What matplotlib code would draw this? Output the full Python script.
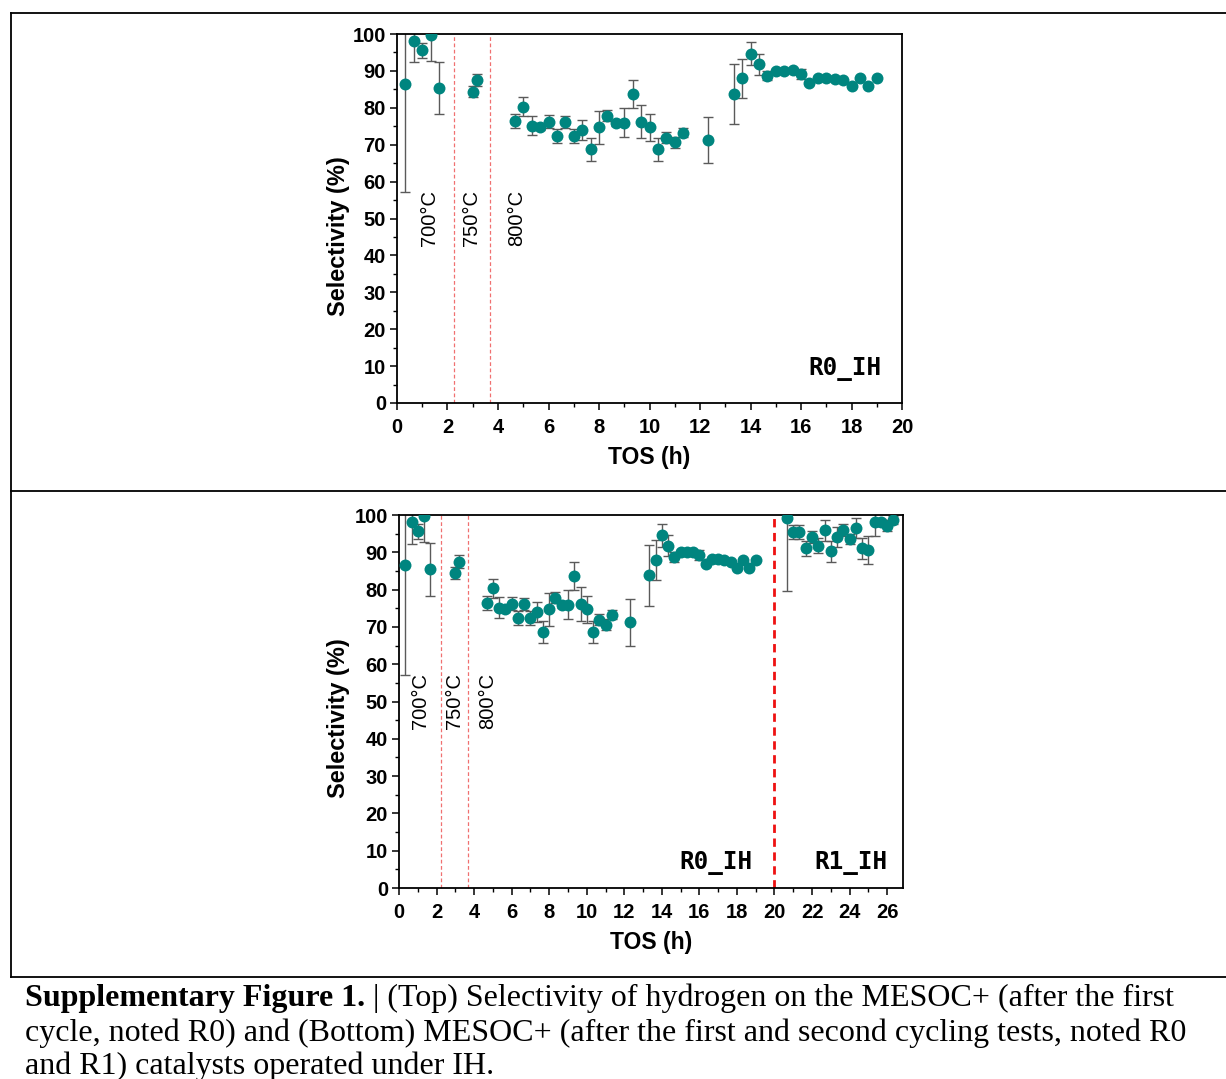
import matplotlib
matplotlib.use("Agg")
import matplotlib.pyplot as plt
from matplotlib.lines import Line2D
from matplotlib.ticker import MultipleLocator
import numpy as np

# ---------------- data ----------------
r0_tos = [0.33, 0.67, 1.0, 1.33, 1.67, 3.0, 3.17,
          4.67, 5.0, 5.33, 5.67, 6.0, 6.33, 6.67, 7.0, 7.33, 7.67, 8.0, 8.33, 8.67,
          9.0, 9.33, 9.67, 10.0, 10.33, 10.67, 11.0, 11.33, 12.33,
          13.33, 13.67, 14.0, 14.33, 14.67, 15.0, 15.33, 15.67, 16.0, 16.33, 16.67,
          17.0, 17.33, 17.67, 18.0, 18.33, 18.67, 19.0]
r0_sel = [86.5, 98.2, 95.6, 99.7, 85.4, 84.4, 87.5,
          76.5, 80.3, 75.2, 74.9, 76.2, 72.4, 76.1, 72.4, 74.0, 68.7, 74.7, 77.8, 76.0,
          76.0, 83.7, 76.2, 74.7, 68.7, 71.9, 70.6, 73.3, 71.3,
          83.8, 88.0, 94.6, 91.8, 88.7, 90.1, 90.1, 90.2, 89.2, 86.8, 88.2,
          88.2, 87.9, 87.4, 85.9, 88.0, 85.9, 88.0]
r0_err = [29.4, 5.9, 2.0, 7.0, 7.1, 1.6, 1.7,
          1.9, 2.6, 2.7, 1.0, 1.8, 1.9, 1.6, 1.9, 2.6, 3.0, 4.5, 1.5, 0.8,
          3.9, 3.8, 4.5, 3.7, 3.0, 1.5, 1.4, 1.3, 6.3,
          8.2, 5.3, 3.1, 2.8, 1.3, 0.5, 0.5, 0.5, 1.3, 0.5, 0.5,
          0.5, 0.5, 0.5, 0.3, 0.3, 0.3, 0.3]

r1_tos = [20.67, 21.0, 21.33, 21.67, 22.0, 22.33, 22.67, 23.0, 23.33, 23.67,
          24.0, 24.33, 24.67, 25.0, 25.33, 25.67, 26.0, 26.33]
r1_sel = [99.3, 95.4, 95.4, 91.1, 94.1, 91.8, 95.9, 90.3, 94.1, 95.9,
          93.5, 96.4, 91.1, 90.6, 98.0, 98.0, 97.1, 98.7]
r1_err = [19.8, 1.8, 1.8, 2.0, 1.5, 2.0, 2.8, 2.8, 2.8, 1.6,
          1.3, 2.7, 2.8, 3.7, 3.5, 1.0, 1.5, 1.0]

temp_labels = ["700°C", "750°C", "800°C"]
temp_changes = [2.25, 3.7]
cycle_change = 20

caption_bold = "Supplementary Figure 1."
caption_lines = [" | (Top) Selectivity of hydrogen on the MESOC+ (after the first",
                 "cycle, noted R0) and (Bottom) MESOC+ (after the first and second cycling tests, noted R0",
                 "and R1) catalysts operated under IH."]

# ---------------- style ----------------
plt.rcParams['font.family'] = ['Liberation Sans', 'DejaVu Sans']
W, H = 1226, 1079
fig = plt.figure(figsize=(W / 100, H / 100), dpi=100)

TEAL = '#00857f'
ECOL = '#5a5a5a'


def fx(px):
    return px / W


def fy(py):
    return 1 - py / H


def style_axes(ax, xmax, xticks, ylab_y, ylab_x):
    ax.set_ylim(0, 100)
    ax.set_xlim(0, xmax)
    ax.set_xticks(xticks)
    ax.xaxis.set_minor_locator(MultipleLocator(1))
    ax.yaxis.set_major_locator(MultipleLocator(10))
    ax.yaxis.set_minor_locator(MultipleLocator(5))
    ax.tick_params(which='major', direction='out', length=5, width=1.1, labelsize=14.5)
    ax.tick_params(axis='x', which='major', pad=6)
    ax.tick_params(axis='y', which='major', pad=3)
    ax.tick_params(which='minor', direction='out', length=3, width=1.0)
    for lab in ax.get_xticklabels() + ax.get_yticklabels():
        lab.set_fontweight('bold')
    for s in ax.spines.values():
        s.set_linewidth(1.3)
    ax.set_xlabel("TOS (h)", fontsize=16.5, fontweight='bold', labelpad=6)
    ax.set_ylabel("Selectivity (%)", fontsize=17, fontweight='bold')
    ax.yaxis.set_label_coords(ylab_x, ylab_y)


def plot_series(ax, x, y, e):
    ax.errorbar(x, y, yerr=e, fmt='none', ecolor=ECOL, elinewidth=1.0,
                capsize=3.5, capthick=1.0, zorder=2)
    ax.plot(x, y, 'o', color=TEAL, markersize=8.6, markeredgewidth=0, zorder=3)


# ---------------- top panel ----------------
ax1 = fig.add_axes([fx(397), fy(403), fx(902) - fx(397), fy(34) - fy(403)])
style_axes(ax1, 20, list(range(0, 21, 2)), 0.453, -0.093)
for xv in temp_changes:
    ax1.axvline(xv, color='#f07070', lw=0.9, ls=(0, (3, 2)), zorder=1)
plot_series(ax1, r0_tos, r0_sel, r0_err)
for xt, lab in zip([1.3, 2.97, 4.75], temp_labels):
    ax1.text(xt, 42.5, lab, rotation=90, ha='center', va='bottom', fontsize=14.5)
ax1.text(17.75, 9.3, "R0_IH", ha='center', va='center', fontsize=17.5,
         fontweight='bold', family='DejaVu Sans Mono')

# ---------------- bottom panel ----------------
ax2 = fig.add_axes([fx(399), fy(888), fx(902.5) - fx(399), fy(515) - fy(888)])
style_axes(ax2, 26.82, list(range(0, 27, 2)), 0.456, -0.097)
for xv in temp_changes:
    ax2.axvline(xv, color='#f07070', lw=0.9, ls=(0, (3, 2)), zorder=1)
ax2.axvline(cycle_change, color='#ee1111', lw=2.0, ls=(0, (3, 2)), zorder=1)
plot_series(ax2, r0_tos, r0_sel, r0_err)
plot_series(ax2, r1_tos, r1_sel, r1_err)
for xt, lab in zip([1.12, 2.98, 4.73], temp_labels):
    ax2.text(xt, 42.5, lab, rotation=90, ha='center', va='bottom', fontsize=14.5)
ax2.text(16.9, 6.6, "R0_IH", ha='center', va='center', fontsize=17.5,
         fontweight='bold', family='DejaVu Sans Mono')
ax2.text(24.1, 6.6, "R1_IH", ha='center', va='center', fontsize=17.5,
         fontweight='bold', family='DejaVu Sans Mono')

# ---------------- frame lines ----------------
lc = 'black'
lw = 1.3
fig.add_artist(Line2D([fx(11), 1], [fy(13.3), fy(13.3)], color=lc, lw=lw))
fig.add_artist(Line2D([fx(11), 1], [fy(491), fy(491)], color=lc, lw=lw))
fig.add_artist(Line2D([fx(11), 1], [fy(976.5), fy(976.5)], color=lc, lw=lw))
fig.add_artist(Line2D([fx(11), fx(11)], [fy(13.3), fy(976.5)], color=lc, lw=lw))

# ---------------- caption ----------------
cap_font = ['Liberation Serif', 'DejaVu Serif']
cap_size = 23
baselines = [1006, 1041, 1074]
tb = fig.text(fx(25), fy(baselines[0]), caption_bold, fontsize=cap_size,
              fontweight='bold', family=cap_font, va='baseline', ha='left')
fig.canvas.draw()
bb = tb.get_window_extent(renderer=fig.canvas.get_renderer())
fig.text(bb.x1 / W, fy(baselines[0]), caption_lines[0], fontsize=cap_size,
         family=cap_font, va='baseline', ha='left')
for bl, line in zip(baselines[1:], caption_lines[1:]):
    fig.text(fx(25), fy(bl), line, fontsize=cap_size, family=cap_font,
             va='baseline', ha='left')

fig.savefig("out.png", dpi=100)
